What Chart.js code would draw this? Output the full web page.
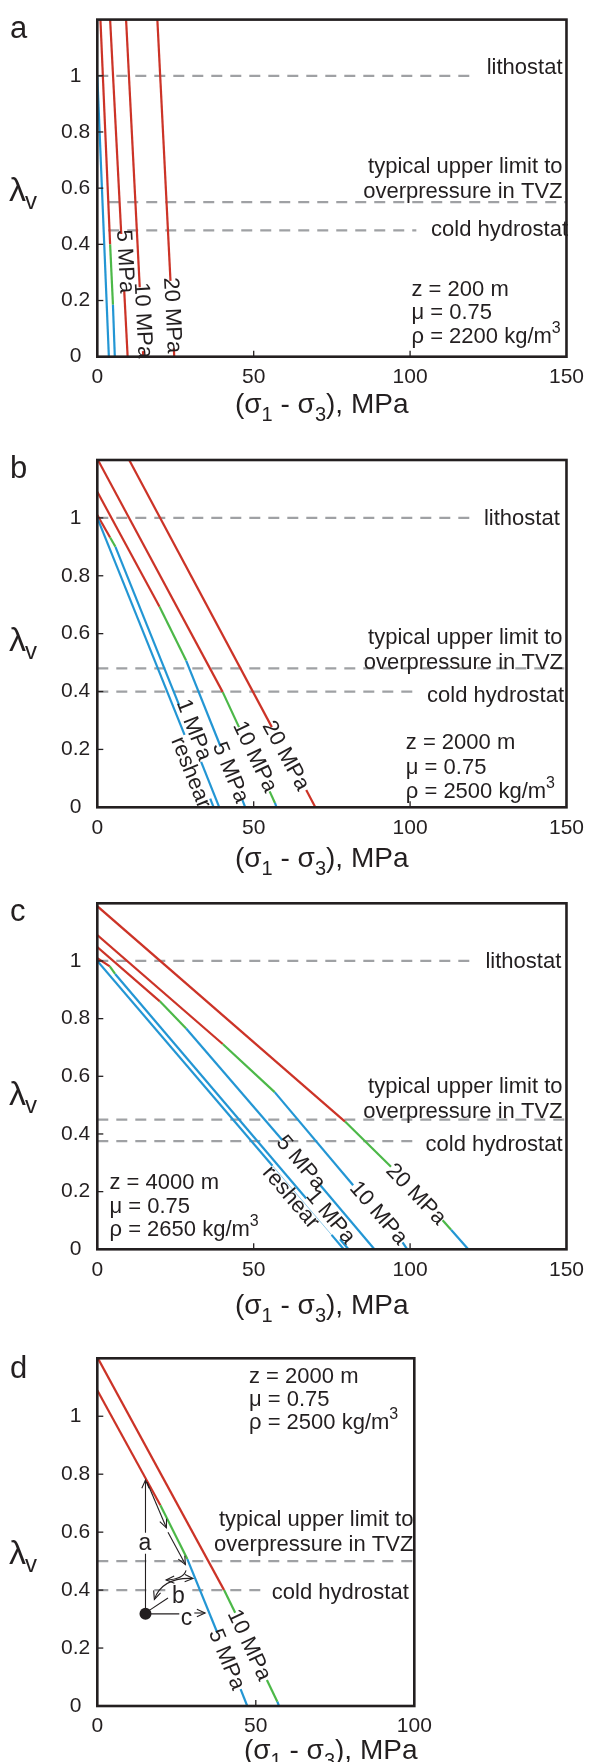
<!DOCTYPE html>
<html><head><meta charset="utf-8">
<script src="https://cdn.jsdelivr.net/npm/chart.js@4/dist/chart.umd.min.js"></script>
<style>
html,body{margin:0;padding:0;background:#fff;}
#wrap{position:relative;width:592px;height:1762px;overflow:hidden;}
canvas{position:absolute;left:0;}
</style></head><body><div id="wrap">
<canvas id="ca" width="592" height="430" style="top:0px"></canvas>
<canvas id="cb" width="592" height="450" style="top:430px"></canvas>
<canvas id="cc" width="592" height="450" style="top:880px"></canvas>
<canvas id="cd" width="592" height="432" style="top:1330px"></canvas>
</div>
<script>
// ---------- shared tick values ----------
const xTicksWide = [0, 50, 100, 150];
const xTicksNarrow = [0, 50, 100];
const yTicks = [0, 0.2, 0.4, 0.6, 0.8, 1];

// ---------- panel a : z = 200 m ----------
const aReshear = [[0, 1.0], [3.7, 0]];
const aReshearSeg = ['blue'];
const a1 = [[1.0, 1.2], [4.1, 0.40], [5.0, 0.185], [5.6, 0]];
const a1Seg = ['red', 'green', 'blue'];
const a5 = [[4.1, 1.2], [7.66, 0.437], [8.6, 0.236], [9.7, 0]];
const a5Seg = ['red', 'gap', 'red'];
const a10 = [[9.2, 1.2], [13.57, 0.247], [14.6, 0.02], [14.7, 0]];
const a10Seg = ['red', 'gap', 'red'];
const a20 = [[19.2, 1.2], [23.4, 0.27], [24.47, 0.03], [24.6, 0]];
const a20Seg = ['red', 'gap', 'red'];
const aLevels = [1.0, 0.55, 0.45];
const aLevelFrom = [0, 3.5, 3.5];
const aLevelTo = [121, 150, 102];
const aLabelText = ['5 MPa', '10 MPa', '20 MPa'];
const aLabelX = [8.8, 14.5, 23.9];
const aLabelY = [0.339, 0.13, 0.147];
const aLabelLine = [2, 3, 4];

// ---------- panel b : z = 2000 m ----------
const bReshear = [[0, 1.0], [27.9, 0.25], [36.1, 0.03], [37.2, 0]];
const bReshearSeg = ['blue', 'gap', 'blue'];
const b1 = [[0, 1.01], [4.1, 0.932], [5.8, 0.90], [26.2, 0.352], [33.2, 0.157], [39.0, 0]];
const b1Seg = ['red', 'green', 'blue', 'gap', 'blue'];
const b5 = [[0, 1.09], [19.9, 0.693], [28.4, 0.507], [39.4, 0.21], [46.4, 0.025], [47.3, 0]];
const b5Seg = ['red', 'green', 'blue', 'gap', 'blue'];
const b10 = [[0.2, 1.2], [40.1, 0.398], [45.3, 0.277], [55.1, 0.055], [56.8, 0.015], [57.3, 0]];
const b10Seg = ['red', 'green', 'gap', 'green', 'blue'];
const b20 = [[10.2, 1.2], [55.8, 0.277], [66.8, 0.06], [69.7, 0]];
const b20Seg = ['red', 'gap', 'red'];
const bLevels = [1.0, 0.48, 0.40];
const bLevelFrom = [0, 0, 0];
const bLevelTo = [120.6, 150, 102];
const bLabelText = ['reshear', '1 MPa', '5 MPa', '10 MPa', '20 MPa'];
const bLabelX = [29.8, 30.8, 42.5, 50.3, 60.2];
const bLabelY = [0.12, 0.267, 0.12, 0.174, 0.178];
const bLabelLine = [0, 1, 2, 3, 4];

// ---------- panel c : z = 4000 m ----------
const cReshear = [[0, 1.0], [56.0, 0.29], [74.9, 0.05], [78.8, 0]];
const cReshearSeg = ['blue', 'thin', 'blue'];
const c1 = [[0, 1.01], [4.0, 0.981], [5.7, 0.955], [66.8, 0.176], [77.6, 0.035], [80.3, 0]];
const c1Seg = ['red', 'green', 'blue', 'gap', 'blue'];
const c5 = [[0, 1.048], [20.0, 0.86], [28.4, 0.766], [59.2, 0.378], [71.3, 0.222], [88.6, 0]];
const c5Seg = ['red', 'green', 'blue', 'gap', 'blue'];
const c10 = [[0, 1.09], [40.1, 0.712], [56.7, 0.545], [81.8, 0.222], [97.6, 0.024], [99.1, 0]];
const c10Seg = ['red', 'green', 'blue', 'gap', 'blue'];
const c20 = [[0, 1.19], [79.2, 0.443], [93.9, 0.286], [110.4, 0.101], [113.1, 0.068], [118.6, 0]];
const c20Seg = ['red', 'green', 'gap', 'green', 'blue'];
const cLevels = [1.0, 0.45, 0.375];
const cLevelFrom = [0, 0, 0];
const cLevelTo = [120.6, 150, 101.5];
const cLabelText = ['reshear', '1 MPa', '5 MPa', '10 MPa', '20 MPa'];
const cLabelX = [61.8, 74.5, 65.0, 89.8, 101.8];
const cLabelY = [0.18, 0.113, 0.30, 0.125, 0.19];
const cLabelLine = [0, 1, 2, 3, 4];

// ---------- panel d : z = 2000 m, paths ----------
const d5 = [[0, 1.09], [19.9, 0.693], [28.4, 0.507], [37.9, 0.252], [45.2, 0.058], [47.3, 0]];
const d5Seg = ['red', 'green', 'blue', 'gap', 'blue'];
const d10 = [[0.2, 1.2], [40.0, 0.40], [43.5, 0.322], [53.5, 0.09], [56.8, 0.015], [57.3, 0]];
const d10Seg = ['red', 'green', 'gap', 'green', 'blue'];
const dLevels = [0.50, 0.40];
const dLevelFrom = [0, 0];
const dLevelTo = [100, 53.3];
const dLabelText = ['5 MPa', '10 MPa'];
const dLabelX = [40.7, 47.8];
const dLabelY = [0.16, 0.21];
const dLabelLine = [0, 1];
const dDot = [15.2, 0.318];
const dArrowA = [[15.2, 0.318], [15.2, 0.78]];
const dArrowDiag1 = [[15.7, 0.772], [21.8, 0.615]];
const dArrowDiag2 = [[22.3, 0.600], [27.8, 0.488]];
const dCurveB1 = [[28.0, 0.468], [27.2, 0.437], [21.7, 0.435]];
const dCurveB2 = [[18.0, 0.368], [20.5, 0.445], [30.2, 0.44]];
const dLineB = [[16.4, 0.33], [22.3, 0.373]];
const dLineC = [[15.2, 0.318], [26.0, 0.318]];
const dArrowC = [[30.6, 0.321], [34.0, 0.321]];
const dLetters = ['a', 'b', 'c'];
const dLetterX = [15.0, 25.6, 28.1];
const dLetterY = [0.56, 0.376, 0.30];

// ---------- styles ----------
const FONT = '"Liberation Sans", Arial, Helvetica, sans-serif';
const INK = '#231f20';
const SEGCOL = {red: '#cc3327', green: '#4cb848', blue: '#2396d4', gap: 'rgba(0,0,0,0)', thin: 'rgba(35,150,212,0.55)'};
const GREY = '#9fa1a4';
Chart.defaults.font.family = FONT;
Chart.defaults.color = INK;

function sup(t){return [t, 2];}
function sub(t){return [t, 1];}
function txt(t){return [t, 0];}

const panels = [
  {id: 'ca', top: 0, h: 430, plotTop: 10, plotBottom: 356.7, plotRight: 572.7, xMax: 150, xTicks: xTicksWide,
   lines: [[aReshear, aReshearSeg], [a1, a1Seg], [a5, a5Seg], [a10, a10Seg], [a20, a20Seg]],
   levels: aLevels, levelFrom: aLevelFrom, levelTo: aLevelTo,
   labelText: aLabelText, labelX: aLabelX, labelY: aLabelY, labelLine: aLabelLine,
   letter: 'a', letterBase: 38, lambdaBase: 201, titleX: 235, titleBase: 413,
   notes: [
     {p: [txt('lithostat')], x: 562.5, y: 68, al: 'right'},
     {p: [txt('typical upper limit to')], x: 562.5, y: 166.7, al: 'right'},
     {p: [txt('overpressure in TVZ')], x: 562.5, y: 191.7, al: 'right'},
     {p: [txt('cold hydrostat')], x: 568, y: 230, al: 'right'},
     {p: [txt('z = 200 m')], x: 411.5, y: 290, al: 'left'},
     {p: [txt('\u03bc = 0.75')], x: 411.5, y: 313.3, al: 'left'},
     {p: [txt('\u03c1 = 2200 kg/m'), sup('3')], x: 411.5, y: 336.7, al: 'left'}
   ]},
  {id: 'cb', top: 430, h: 450, plotTop: 460, plotBottom: 807.3, plotRight: 572.7, xMax: 150, xTicks: xTicksWide,
   lines: [[bReshear, bReshearSeg], [b1, b1Seg], [b5, b5Seg], [b10, b10Seg], [b20, b20Seg]],
   levels: bLevels, levelFrom: bLevelFrom, levelTo: bLevelTo,
   labelText: bLabelText, labelX: bLabelX, labelY: bLabelY, labelLine: bLabelLine,
   letter: 'b', letterBase: 478, lambdaBase: 651, titleX: 235, titleBase: 867,
   notes: [
     {p: [txt('lithostat')], x: 559.8, y: 519.3, al: 'right'},
     {p: [txt('typical upper limit to')], x: 562.5, y: 638.3, al: 'right'},
     {p: [txt('overpressure in TVZ')], x: 563, y: 662.7, al: 'right'},
     {p: [txt('cold hydrostat')], x: 564, y: 696, al: 'right'},
     {p: [txt('z = 2000 m')], x: 405.8, y: 743.3, al: 'left'},
     {p: [txt('\u03bc = 0.75')], x: 405.8, y: 767.5, al: 'left'},
     {p: [txt('\u03c1 = 2500 kg/m'), sup('3')], x: 405.8, y: 791.7, al: 'left'}
   ]},
  {id: 'cc', top: 880, h: 450, plotTop: 903.3, plotBottom: 1249.3, plotRight: 572.7, xMax: 150, xTicks: xTicksWide,
   lines: [[cReshear, cReshearSeg], [c1, c1Seg], [c5, c5Seg], [c10, c10Seg], [c20, c20Seg]],
   levels: cLevels, levelFrom: cLevelFrom, levelTo: cLevelTo,
   labelText: cLabelText, labelX: cLabelX, labelY: cLabelY, labelLine: cLabelLine,
   letter: 'c', letterBase: 921, lambdaBase: 1105, titleX: 235, titleBase: 1314,
   notes: [
     {p: [txt('lithostat')], x: 561.3, y: 961.7, al: 'right'},
     {p: [txt('typical upper limit to')], x: 562.5, y: 1086.7, al: 'right'},
     {p: [txt('overpressure in TVZ')], x: 562.5, y: 1111.7, al: 'right'},
     {p: [txt('cold hydrostat')], x: 562.5, y: 1145, al: 'right'},
     {p: [txt('z = 4000 m')], x: 109.5, y: 1183.3, al: 'left'},
     {p: [txt('\u03bc = 0.75')], x: 109.5, y: 1206.7, al: 'left'},
     {p: [txt('\u03c1 = 2650 kg/m'), sup('3')], x: 109.5, y: 1230, al: 'left'}
   ]},
  {id: 'cd', top: 1330, h: 432, plotTop: 1358.3, plotBottom: 1706, plotRight: 414.3, xMax: 100, xTicks: xTicksNarrow,
   lines: [[d5, d5Seg], [d10, d10Seg]],
   levels: dLevels, levelFrom: dLevelFrom, levelTo: dLevelTo,
   labelText: dLabelText, labelX: dLabelX, labelY: dLabelY, labelLine: dLabelLine,
   letter: 'd', letterBase: 1378, lambdaBase: 1564, titleX: 244, titleBase: 1759,
   arrows: true,
   notes: [
     {p: [txt('typical upper limit to')], x: 413.4, y: 1520, al: 'right'},
     {p: [txt('overpressure in TVZ')], x: 413.4, y: 1545, al: 'right'},
     {p: [txt('cold hydrostat')], x: 271.8, y: 1593.3, al: 'left'},
     {p: [txt('z = 2000 m')], x: 249, y: 1376.7, al: 'left'},
     {p: [txt('\u03bc = 0.75')], x: 249, y: 1400, al: 'left'},
     {p: [txt('\u03c1 = 2500 kg/m'), sup('3')], x: 249, y: 1423.3, al: 'left'}
   ]}
];

// rich text: parts [text, mode] mode 0 normal, 1 subscript, 2 superscript
function drawRich(ctx, parts, x, y, align, size){
  const small = Math.round(size * 0.72);
  let w = 0;
  parts.forEach(([t, m]) => { ctx.font = (m ? small : size) + 'px ' + FONT; w += ctx.measureText(t).width; });
  let cx = align === 'right' ? x - w : (align === 'center' ? x - w / 2 : x);
  ctx.textAlign = 'left';
  parts.forEach(([t, m]) => {
    ctx.font = (m ? small : size) + 'px ' + FONT;
    const dy = m === 1 ? size * 0.28 : (m === 2 ? -size * 0.38 : 0);
    ctx.fillText(t, cx, y + dy);
    cx += ctx.measureText(t).width;
  });
}

function arrowHead(ctx, x0, y0, x1, y1, len){
  const a = Math.atan2(y1 - y0, x1 - x0);
  const s = 0.42;
  ctx.beginPath();
  ctx.moveTo(x1 - len * Math.cos(a - s), y1 - len * Math.sin(a - s));
  ctx.lineTo(x1, y1);
  ctx.lineTo(x1 - len * Math.cos(a + s), y1 - len * Math.sin(a + s));
  ctx.stroke();
}

function makeDeco(p){
  return {
    id: 'deco_' + p.id,
    afterDatasetsDraw(chart){
      const ctx = chart.ctx, xs = chart.scales.x, ys = chart.scales.y, ca = chart.chartArea;
      const X = v => xs.getPixelForValue(v), Y = v => ys.getPixelForValue(v);
      const T = v => v - p.top;
      ctx.save();
      ctx.fillStyle = INK; ctx.strokeStyle = INK;
      // inward ticks
      ctx.lineWidth = 1.3;
      p.xTicks.forEach(v => { if (v > xs.min && v < xs.max){ ctx.beginPath(); ctx.moveTo(X(v), ca.bottom); ctx.lineTo(X(v), ca.bottom - 6); ctx.stroke(); } });
      yTicks.forEach(v => { if (v > ys.min && v < ys.max){ ctx.beginPath(); ctx.moveTo(ca.left, Y(v)); ctx.lineTo(ca.left + 6, Y(v)); ctx.stroke(); } });
      // frame
      ctx.lineWidth = 2.6;
      ctx.strokeRect(ca.left, ca.top, ca.right - ca.left, ca.bottom - ca.top);
      // line labels
      ctx.textBaseline = 'middle'; ctx.textAlign = 'center';
      ctx.font = '22px ' + FONT;
      p.labelText.forEach((t, i) => {
        const ln = p.lines[p.labelLine[i]], pts = ln[0], seg = ln[1];
        let k = seg.findIndex(s => s === 'gap' || s === 'thin');
        if (k < 0) k = 0;
        const p0 = pts[k], p1 = pts[k + 1];
        const ang = Math.atan2(Y(p1[1]) - Y(p0[1]), X(p1[0]) - X(p0[0]));
        ctx.save();
        ctx.translate(X(p.labelX[i]), Y(p.labelY[i]));
        ctx.rotate(ang);
        ctx.fillText(t, 0, 0);
        ctx.restore();
      });
      // notes
      ctx.textBaseline = 'middle';
      p.notes.forEach(n => drawRich(ctx, n.p, n.x, T(n.y), n.al, 22));
      // panel letter
      ctx.textBaseline = 'alphabetic';
      ctx.textAlign = 'left';
      ctx.font = '31px ' + FONT;
      ctx.fillText(p.letter, 10, T(p.letterBase));
      // y title
      ctx.font = '34px ' + FONT;
      ctx.fillText('\u03bb', 9, T(p.lambdaBase));
      const lw = ctx.measureText('\u03bb').width;
      ctx.font = '24px ' + FONT;
      ctx.fillText('v', 9 + lw - 1, T(p.lambdaBase) + 8);
      // x title
      drawRich(ctx, [txt('(\u03c3'), sub('1'), txt(' - \u03c3'), sub('3'), txt('), MPa')], p.titleX, T(p.titleBase), 'left', 28);
      // panel d annotations
      if (p.arrows){
        ctx.lineWidth = 1.1;
        const seg = (a, b) => { ctx.beginPath(); ctx.moveTo(X(a[0]), Y(a[1])); ctx.lineTo(X(b[0]), Y(b[1])); ctx.stroke(); };
        const arr = (a, b) => { seg(a, b); arrowHead(ctx, X(a[0]), Y(a[1]), X(b[0]), Y(b[1]), 9); };
        arr(dArrowA[0], dArrowA[1]);
        arr(dArrowDiag1[0], dArrowDiag1[1]);
        arr(dArrowDiag2[0], dArrowDiag2[1]);
        seg(dLineB[0], dLineB[1]);
        seg(dLineC[0], dLineC[1]);
        arr(dArrowC[0], dArrowC[1]);
        const curve = (c, heads) => {
          const [s, m, e] = c;
          ctx.beginPath(); ctx.moveTo(X(s[0]), Y(s[1])); ctx.quadraticCurveTo(X(m[0]), Y(m[1]), X(e[0]), Y(e[1])); ctx.stroke();
          arrowHead(ctx, X(m[0]), Y(m[1]), X(e[0]), Y(e[1]), 9);
          if (heads === 2) arrowHead(ctx, X(m[0]), Y(m[1]), X(s[0]), Y(s[1]), 9);
        };
        curve(dCurveB1, 1);
        curve(dCurveB2, 2);
        ctx.beginPath(); ctx.arc(X(dDot[0]), Y(dDot[1]), 6, 0, Math.PI * 2); ctx.fill();
        ctx.font = '23px ' + FONT; ctx.textAlign = 'center'; ctx.textBaseline = 'middle';
        dLetters.forEach((t, i) => {
          const px = X(dLetterX[i]), py = Y(dLetterY[i]);
          ctx.fillStyle = '#fff'; ctx.fillRect(px - 7, py - 11, 14, 21);
          ctx.fillStyle = INK; ctx.fillText(t, px, py);
        });
      }
      ctx.restore();
    }
  };
}

panels.forEach(p => {
  const datasets = [];
  p.levels.forEach((l, i) => datasets.push({
    data: [{x: p.levelFrom[i], y: l}, {x: p.levelTo[i], y: l}],
    borderColor: GREY, borderWidth: 2.2, borderDash: [11, 8], pointRadius: 0, order: 2
  }));
  p.lines.forEach(([pts, segs]) => datasets.push({
    data: pts.map(q => ({x: q[0], y: q[1]})),
    borderColor: SEGCOL[segs[0]], borderWidth: 2.2, pointRadius: 0, tension: 0, borderCapStyle: 'butt', order: 1,
    segment: {
      borderColor: c => SEGCOL[segs[c.p0DataIndex]],
      borderWidth: c => segs[c.p0DataIndex] === 'thin' ? 0.9 : 2.2
    }
  }));
  const padTop = p.plotTop - p.top;
  const xHeight = p.h - (p.plotBottom - p.top);
  new Chart(document.getElementById(p.id), {
    type: 'line',
    data: {datasets},
    options: {
      responsive: false, animation: false, events: [],
      layout: {padding: {top: padTop, right: 592 - p.plotRight, left: 0, bottom: 0}},
      plugins: {legend: {display: false}, tooltip: {enabled: false}},
      scales: {
        x: {type: 'linear', min: 0, max: p.xMax,
            grid: {display: false, drawTicks: false}, border: {display: false},
            afterBuildTicks: s => { s.ticks = p.xTicks.map(v => ({value: v})); },
            afterFit: s => { s.height = xHeight; },
            ticks: {font: {size: 21}, color: INK, padding: 8, maxRotation: 0, callback: v => String(v)}},
        y: {type: 'linear', min: 0, max: 1.2,
            grid: {display: false, drawTicks: false}, border: {display: false},
            afterBuildTicks: s => { s.ticks = yTicks.map(v => ({value: v})); },
            afterFit: s => { s.width = 97.3; },
            ticks: {font: {size: 21}, color: INK, padding: 7, crossAlign: 'center', callback: v => String(v)}}
      }
    },
    plugins: [makeDeco(p)]
  });
});
</script></body></html>
